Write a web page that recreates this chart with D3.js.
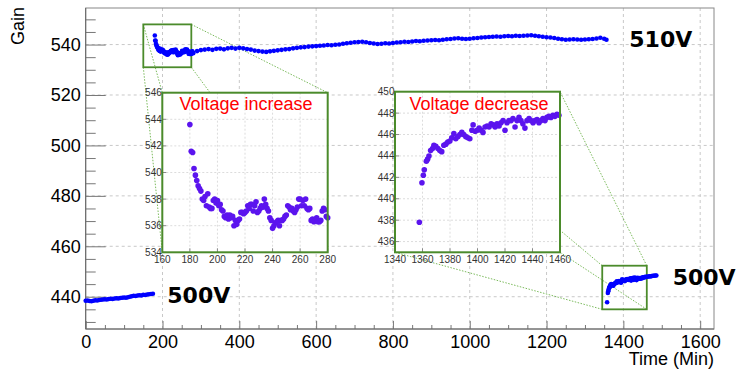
<!DOCTYPE html>
<html>
<head>
<meta charset="utf-8">
<script src="https://cdn.jsdelivr.net/npm/d3@7"></script>
<style>body { margin: 0; background: #fff; }</style>
</head>
<body>
<script>
// 500V before the change
const lowTime = [0, 5, 10, 15, 20, 25, 30, 35, 40, 45, 50, 55, 60, 65, 70, 75, 80, 85, 90, 95,
    100, 105, 110, 115, 120, 125, 130, 135, 140, 145, 150, 155, 160, 165, 170, 175];
const lowGain = [438.4, 438.5, 438.3, 438.2, 438.4, 438.6, 438.5, 438.7, 438.8, 438.9, 439.0, 438.9, 439.1, 439.2, 439.1, 439.3, 439.4, 439.3, 439.5, 439.6,
    439.7, 439.6, 439.8, 440.0, 440.2, 440.4, 440.3, 440.5, 440.6, 440.5, 440.8, 440.7, 440.9, 441.0, 441.1, 441.2];

// 510V, first 100 minutes (also the "Voltage increase" inset)
const incTime = [180, 181, 182, 183, 184, 185, 186, 187, 188, 189, 190, 191, 192, 193, 194, 195, 196, 197, 198, 199,
    200, 201, 202, 203, 204, 205, 206, 207, 208, 209, 210, 211, 212, 213, 214, 215, 216, 217, 218, 219,
    220, 221, 222, 223, 224, 225, 226, 227, 228, 229, 230, 231, 232, 233, 234, 235, 236, 237, 238, 239,
    240, 241, 242, 243, 244, 245, 246, 247, 248, 249, 250, 251, 252, 253, 254, 255, 256, 257, 258, 259,
    260, 261, 262, 263, 264, 265, 266, 267, 268, 269, 270, 271, 272, 273, 274, 275, 276, 277, 278, 279, 280];
const incGain = [543.6, 541.6, 541.5, 540.3, 539.8, 539.4, 539.0, 538.8, 538.6, 538.0, 537.9, 538.2, 537.5, 538.4, 537.4, 537.3, 537.3, 537.9, 538.0, 537.7,
    537.9, 537.5, 537.6, 537.2, 537.1, 536.7, 536.6, 536.8, 536.5, 536.8, 536.6, 536.7, 536.0, 536.4, 536.1, 536.4, 536.5, 537.0, 537.0, 536.9,
    537.0, 537.1, 537.5, 537.3, 537.6, 537.6, 537.1, 537.5, 537.8, 537.0, 537.1, 537.3, 537.5, 537.4, 538.0, 537.6, 537.3, 537.1, 536.6, 536.4,
    535.8, 536.0, 536.2, 536.3, 536.4, 536.0, 536.4, 536.4, 536.5, 536.7, 536.8, 537.5, 537.4, 537.2, 537.3, 537.1, 537.0, 537.2, 537.4, 538.0,
    538.0, 537.5, 537.9, 537.5, 538.0, 537.3, 537.2, 537.3, 536.4, 536.5, 536.3, 536.4, 536.6, 536.3, 536.3, 536.4, 537.1, 537.3, 537.2, 536.7, 536.6];

// 510V, rest of the run
const highTime = [290, 300, 310, 320, 330, 340, 350, 360, 370, 380, 390, 400, 410, 420, 430, 440, 450, 460, 470, 480,
    490, 500, 510, 520, 530, 540, 550, 560, 570, 580, 590, 600, 610, 620, 630, 640, 650, 660, 670, 680,
    690, 700, 710, 720, 730, 740, 750, 760, 770, 780, 790, 800, 810, 820, 830, 840, 850, 860, 870, 880,
    890, 900, 910, 920, 930, 940, 950, 960, 970, 980, 990, 1000, 1010, 1020, 1030, 1040, 1050, 1060, 1070, 1080,
    1090, 1100, 1110, 1120, 1130, 1140, 1150, 1160, 1170, 1180, 1190, 1200, 1210, 1220, 1230, 1240, 1250, 1260, 1270, 1280,
    1290, 1300, 1310, 1320, 1330, 1340, 1350, 1356];
const highGain = [537.4, 537.8, 538.0, 538.2, 537.9, 538.3, 538.4, 538.1, 538.5, 538.7, 538.4, 538.7, 538.5, 538.2, 538.0, 537.6, 537.4, 537.2, 537.1, 537.3,
    537.5, 537.7, 537.9, 538.1, 538.2, 538.5, 538.7, 538.9, 539.0, 539.2, 539.3, 539.4, 539.5, 539.6, 539.8, 539.7, 539.9, 540.0, 540.3, 540.5,
    540.7, 540.9, 541.0, 541.1, 540.9, 540.6, 540.4, 540.2, 540.3, 540.5, 540.4, 540.6, 540.8, 540.9, 541.1, 541.0, 541.2, 541.4, 541.3, 541.5,
    541.6, 541.7, 541.8, 541.7, 541.9, 542.1, 542.2, 542.4, 542.5, 542.3, 542.2, 542.3, 542.5, 542.6, 542.8, 542.9, 543.0, 543.1, 543.2, 543.1,
    543.3, 543.4, 543.3, 543.5, 543.4, 543.5, 543.6, 543.7, 543.5, 543.3, 543.1, 542.9, 542.8, 542.6, 542.3, 542.1, 541.9, 542.0, 542.1, 542.0,
    541.9, 542.0, 542.1, 542.2, 542.4, 542.7, 542.3, 541.9];

// back to 500V ("Voltage decrease" inset)
const decTime = [1357.7, 1359.6, 1360.6, 1361.3, 1362.8, 1363.7, 1364.7, 1365.9, 1367.3, 1368.3, 1369.7, 1371.2, 1372.6, 1374.0, 1375.5, 1377.0, 1378.4, 1379.9, 1381.3, 1382.8,
    1384.2, 1385.7, 1387.2, 1388.6, 1390.0, 1391.5, 1393.0, 1394.4, 1395.9, 1396.8, 1398.3, 1399.7, 1401.2, 1402.6, 1404.0, 1405.5, 1407.0, 1408.4, 1409.9, 1411.3,
    1412.8, 1414.2, 1415.7, 1417.1, 1418.6, 1420.0, 1421.5, 1422.9, 1424.4, 1425.8, 1427.3, 1428.7, 1430.2, 1431.6, 1433.0, 1434.5, 1436.0, 1437.5, 1438.9, 1440.4,
    1441.8, 1443.3, 1444.7, 1446.2, 1447.6, 1449.1, 1450.5, 1452.0, 1453.4, 1454.9, 1456.3, 1457.8, 1459.2];
const decGain = [437.8, 441.5, 442.2, 442.7, 443.5, 443.7, 444.0, 444.5, 444.7, 445.0, 444.9, 444.7, 444.5, 444.4, 445.0, 445.1, 445.3, 445.4, 445.7, 446.1,
    445.6, 445.8, 446.0, 446.2, 446.0, 445.8, 445.7, 445.6, 446.4, 446.9, 446.3, 446.4, 446.6, 446.4, 446.2, 446.7, 446.8, 446.7, 447.0, 446.9,
    446.7, 447.0, 446.8, 447.1, 447.3, 446.4, 447.1, 447.3, 447.3, 447.5, 446.7, 447.3, 447.6, 447.3, 447.0, 446.6, 447.3, 447.5, 447.3, 447.1,
    447.3, 447.4, 447.1, 447.3, 447.5, 447.3, 447.6, 447.7, 447.6, 447.8, 447.7, 447.9, 447.8];
const tailTime = [1462, 1465, 1468, 1471, 1474, 1477, 1480, 1483, 1486];
const tailGain = [447.9, 448.0, 448.1, 448.0, 448.2, 448.3, 448.3, 448.4, 448.4];

const xTicks = [0, 200, 400, 600, 800, 1000, 1200, 1400, 1600];
const yTicks = [440, 460, 480, 500, 520, 540];
const incXTicks = [160, 180, 200, 220, 240, 260, 280];
const incYTicks = [534, 536, 538, 540, 542, 544, 546];
const decXTicks = [1340, 1360, 1380, 1400, 1420, 1440, 1460];
const decYTicks = [436, 438, 440, 442, 444, 446, 448, 450];

function pairs(t, g) { return t.map(function (d, i) { return [d, g[i]]; }); }

var svg = d3.select("body").append("svg")
    .attr("width", 737)
    .attr("height", 369)
    .style("font-family", "'Liberation Sans', Arial, sans-serif");

var fLeft = 85.7, fRight = 714, fTop = 8, fBottom = 329;
var x = d3.scaleLinear().domain([0, 1636]).range([fLeft, fRight]);
var y = d3.scaleLinear().domain([427.2, 554.5]).range([fBottom, fTop]);

// grid
svg.append("g").selectAll("line").data(xTicks.filter(d => d > 0)).enter().append("line")
    .attr("x1", d => x(d)).attr("x2", d => x(d)).attr("y1", fTop).attr("y2", fBottom)
    .attr("stroke", "#c8c8c8").attr("stroke-dasharray", "3,3");
svg.append("g").selectAll("line").data(yTicks).enter().append("line")
    .attr("x1", fLeft).attr("x2", fRight).attr("y1", d => y(d)).attr("y2", d => y(d))
    .attr("stroke", "#c8c8c8").attr("stroke-dasharray", "3,3");

svg.append("rect").attr("x", fLeft).attr("y", fTop).attr("width", fRight - fLeft).attr("height", fBottom - fTop)
    .attr("fill", "none").attr("stroke", "#888");

// axes, ticks pointing inwards
function styleAxis(g, size) {
    g.select(".domain").remove();
    g.selectAll(".tick line").attr("stroke", "#777");
    g.selectAll("text").attr("font-size", size).attr("fill", "#000");
}
var yMinor = d3.range(430, 555, 5).filter(d => yTicks.indexOf(d) < 0);
var xMinor = d3.range(50, 1636, 50).filter(d => xTicks.indexOf(d) < 0);
svg.append("g").attr("transform", "translate(" + fLeft + ",0)")
    .call(d3.axisLeft(y).tickValues(yMinor).tickSize(-10).tickFormat(""))
    .call(styleAxis, 18);
svg.append("g").attr("transform", "translate(" + fLeft + ",0)")
    .call(d3.axisLeft(y).tickValues(yTicks).tickSize(-20).tickPadding(5).tickFormat(d3.format("d")))
    .call(styleAxis, 18);
svg.append("g").attr("transform", "translate(0," + fBottom + ")")
    .call(d3.axisBottom(x).tickValues(xMinor).tickSize(-4).tickFormat(""))
    .call(styleAxis, 18);
svg.append("g").attr("transform", "translate(0," + fBottom + ")")
    .call(d3.axisBottom(x).tickValues(xTicks).tickSize(-8).tickPadding(6).tickFormat(d3.format("d")))
    .call(styleAxis, 18);
svg.append("line").attr("x1", fLeft).attr("x2", fLeft).attr("y1", fTop).attr("y2", fBottom).attr("stroke", "#666");
svg.append("line").attr("x1", fLeft).attr("x2", fRight).attr("y1", fBottom).attr("y2", fBottom).attr("stroke", "#666");

svg.append("text").attr("transform", "translate(24,7) rotate(-90)")
    .attr("text-anchor", "end").attr("font-size", 18).text("Gain");
svg.append("text").attr("x", fRight).attr("y", 365)
    .attr("text-anchor", "end").attr("font-size", 18).text("Time (Min)");

// zoom boxes and their insets (pixel frames)
var green = "#4b8b2b";
var insets = [
    { box: [150, 275, 531, 548], frame: [162.3, 327.7, 92.7, 252.3], xd: [160, 280], yd: [534, 546],
      xt: incXTicks, yt: incYTicks, data: pairs(incTime, incGain), title: "Voltage increase", tx: 179.5, ty: 110 },
    { box: [1345, 1461, 435, 452.3], frame: [395, 560, 91.7, 252.3], xd: [1340, 1460], yd: [435, 450],
      xt: decXTicks, yt: decYTicks, data: pairs(decTime, decGain), title: "Voltage decrease", tx: 409.5, ty: 109.5 }
];

insets.forEach(function (ins) {
    var bx0 = x(ins.box[0]), bx1 = x(ins.box[1]), by0 = y(ins.box[3]), by1 = y(ins.box[2]);
    var f = ins.frame;
    var corners = [[bx0, by0, f[0], f[2]], [bx1, by0, f[1], f[2]], [bx0, by1, f[0], f[3]], [bx1, by1, f[1], f[3]]];
    svg.append("g").selectAll("line").data(corners).enter().append("line")
        .attr("x1", d => d[0]).attr("y1", d => d[1]).attr("x2", d => d[2]).attr("y2", d => d[3])
        .attr("stroke", "#6cb24a").attr("stroke-width", 0.9).attr("stroke-dasharray", "1.5,1.5");
    svg.append("rect").attr("x", bx0).attr("y", by0).attr("width", bx1 - bx0).attr("height", by1 - by0)
        .attr("fill", "none").attr("stroke", green).attr("stroke-width", 1.8);
});

// main data
var mainData = pairs(lowTime, lowGain)
    .concat(pairs(incTime, incGain))
    .concat(pairs(highTime, highGain))
    .concat(pairs(decTime, decGain))
    .concat(pairs(tailTime, tailGain));
svg.append("g").selectAll("circle").data(mainData).enter().append("circle")
    .attr("cx", d => x(d[0])).attr("cy", d => y(d[1])).attr("r", 2.3).attr("fill", "#0000ff");

// insets
insets.forEach(function (ins) {
    var f = ins.frame;
    var ix = d3.scaleLinear().domain(ins.xd).range([f[0], f[1]]);
    var iy = d3.scaleLinear().domain(ins.yd).range([f[3], f[2]]);
    var g = svg.append("g");
    g.append("rect").attr("x", f[0]).attr("y", f[2]).attr("width", f[1] - f[0]).attr("height", f[3] - f[2]).attr("fill", "#fff");
    g.selectAll(".gx").data(ins.xt.slice(1, -1)).enter().append("line")
        .attr("x1", d => ix(d)).attr("x2", d => ix(d)).attr("y1", f[2]).attr("y2", f[3])
        .attr("stroke", "#dcdcdc").attr("stroke-dasharray", "2,2");
    g.selectAll(".gy").data(ins.yt.filter(d => d > ins.yd[0] && d < ins.yd[1])).enter().append("line")
        .attr("x1", f[0]).attr("x2", f[1]).attr("y1", d => iy(d)).attr("y2", d => iy(d))
        .attr("stroke", "#dcdcdc").attr("stroke-dasharray", "2,2");
    g.selectAll(".tx").data(ins.xt).enter().append("line")
        .attr("x1", d => ix(d)).attr("x2", d => ix(d)).attr("y1", f[3]).attr("y2", f[3] - 4).attr("stroke", "#888");
    g.selectAll(".ty").data(ins.yt).enter().append("line")
        .attr("x1", f[0]).attr("x2", f[0] + 4).attr("y1", d => iy(d)).attr("y2", d => iy(d)).attr("stroke", "#888");
    g.selectAll("circle").data(ins.data).enter().append("circle")
        .attr("cx", d => ix(d[0])).attr("cy", d => iy(d[1])).attr("r", 2.8).attr("fill", "#5b14ee");
    g.append("rect").attr("x", f[0]).attr("y", f[2]).attr("width", f[1] - f[0]).attr("height", f[3] - f[2])
        .attr("fill", "none").attr("stroke", green).attr("stroke-width", 2);
    g.selectAll(".lx").data(ins.xt).enter().append("text")
        .attr("x", d => ix(d)).attr("y", f[3] + 10.5).attr("text-anchor", "middle")
        .attr("font-size", 10).attr("fill", "#333").text(d => d);
    g.selectAll(".ly").data(ins.yt).enter().append("text")
        .attr("x", f[0] - 0.5).attr("y", d => iy(d)).attr("dy", "0.35em").attr("text-anchor", "end")
        .attr("font-size", 10).attr("fill", "#333").text(d => d);
    g.append("text").attr("x", ins.tx).attr("y", ins.ty).attr("font-size", 18).attr("fill", "#ff0000").text(ins.title);
});

// voltage labels
var vlabels = [
    { t: "510V", x: 629.3, y: 46.7 },
    { t: "500V", x: 167.3, y: 303.3 },
    { t: "500V", x: 672.7, y: 285 }
];
svg.selectAll(".volt").data(vlabels).enter().append("text")
    .attr("x", d => d.x).attr("y", d => d.y)
    .attr("font-family", "'DejaVu Sans', sans-serif").attr("font-weight", "bold").attr("font-size", 22)
    .text(d => d.t);
</script>
</body>
</html>
